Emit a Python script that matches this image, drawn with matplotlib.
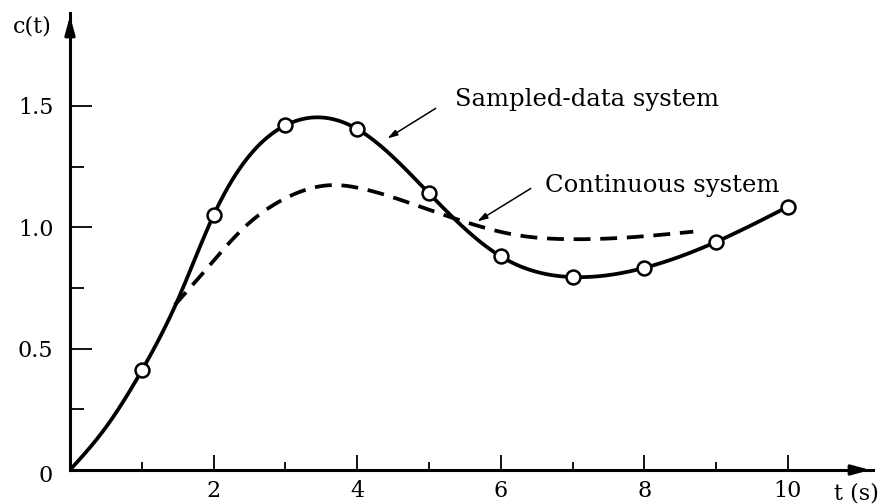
import numpy as np
import matplotlib
matplotlib.use("Agg")
import matplotlib.pyplot as plt

# ---- data ----
sample_t = [1, 2, 3, 4, 5, 6, 7, 8, 9, 10]
sample_c = [0.41, 1.05, 1.42, 1.405, 1.14, 0.88, 0.795, 0.833, 0.94, 1.085]

# solid (sampled-data) response curve, read points
solid_t = [0.0, 0.5, 1.0, 1.5, 2.0, 3.0, 4.0, 5.0, 6.0, 7.0, 8.0, 9.0, 10.0]
solid_c = [0.0, 0.176, 0.41, 0.70, 1.05, 1.42, 1.405, 1.14, 0.88, 0.795, 0.833, 0.94, 1.085]

# dashed (continuous) response curve, read points
cont_t = [1.46, 1.93, 2.39, 2.97, 3.67, 4.04, 4.81, 5.57, 6.22, 6.96, 7.71, 8.68]
cont_c = [0.680, 0.838, 0.989, 1.115, 1.174, 1.161, 1.092, 1.016, 0.968, 0.951, 0.957, 0.982]

x_major = [2, 4, 6, 8, 10]
x_minor = [1, 3, 5, 7, 9]
y_major = [0.5, 1.0, 1.5]
y_minor = [0.25, 0.75, 1.25]
y_labels = ["0.5", "1.0", "1.5"]


def natural_spline(x, y, xs):
    x = np.asarray(x, float); y = np.asarray(y, float)
    n = len(x); h = np.diff(x)
    A = np.zeros((n, n)); b = np.zeros(n)
    A[0, 0] = 1; A[-1, -1] = 1
    for i in range(1, n - 1):
        A[i, i - 1] = h[i - 1]; A[i, i] = 2 * (h[i - 1] + h[i]); A[i, i + 1] = h[i]
        b[i] = 3 * ((y[i + 1] - y[i]) / h[i] - (y[i] - y[i - 1]) / h[i - 1])
    c = np.linalg.solve(A, b)
    ys = np.empty_like(xs)
    idx = np.clip(np.searchsorted(x, xs) - 1, 0, n - 2)
    for k, (xv, i) in enumerate(zip(xs, idx)):
        bi = (y[i + 1] - y[i]) / h[i] - h[i] * (2 * c[i] + c[i + 1]) / 3
        di = (c[i + 1] - c[i]) / (3 * h[i])
        dx = xv - x[i]
        ys[k] = y[i] + bi * dx + c[i] * dx ** 2 + di * dx ** 3
    return ys


plt.rcParams['font.family'] = ['DejaVu Serif']

W, H = 886, 504
fig = plt.figure(figsize=(W / 100, H / 100), dpi=100)
x0, y0 = 70, 470      # origin pixel
xr, yt = 873, 13      # arrow tips
xscale, yscale = 71.8, 242.7
ax = fig.add_axes([x0 / W, (H - y0) / H, (xr - x0) / W, (y0 - yt) / H])
ax.set_xlim(0, (xr - x0) / xscale)
ax.set_ylim(0, (y0 - yt) / yscale)

for s in ['top', 'right']:
    ax.spines[s].set_visible(False)
for s in ['left', 'bottom']:
    ax.spines[s].set_linewidth(2.2)

ax.set_xticks(x_major)
ax.set_xticklabels([str(v) for v in x_major])
ax.set_xticks(x_minor, minor=True)
ax.set_yticks(y_major)
ax.set_yticklabels(y_labels)
ax.set_yticks(y_minor, minor=True)
ax.tick_params(axis='x', which='major', direction='in', length=11, width=1.3, pad=7, labelsize=16)
ax.tick_params(axis='x', which='minor', direction='in', length=6, width=1.3)
ax.tick_params(axis='y', which='major', direction='in', length=16, width=1.3, pad=12, labelsize=16)
ax.tick_params(axis='y', which='minor', direction='in', length=10, width=1.3)

# curves
ts = np.linspace(solid_t[0], solid_t[-1], 600)
ax.plot(ts, natural_spline(solid_t, solid_c, ts), color='black', lw=2.7, solid_capstyle='round', zorder=3)
tc = np.linspace(cont_t[0], cont_t[-1], 400)
ax.plot(tc, natural_spline(cont_t, cont_c, tc), color='black', lw=2.7, dashes=(4.5, 2.6), zorder=2)
ax.plot(sample_t, sample_c, 'o', ms=10, mfc='white', mec='black', mew=1.8, zorder=4, clip_on=False)

# axis arrows
xmax = ax.get_xlim()[1]; ymax = ax.get_ylim()[1]
ax.annotate('', xy=(xmax, 0), xytext=(xmax - 0.3, 0),
            arrowprops=dict(arrowstyle='-|>,head_length=1.1,head_width=0.3', color='black', lw=2.2),
            annotation_clip=False)
ax.annotate('', xy=(0, ymax), xytext=(0, ymax - 0.1),
            arrowprops=dict(arrowstyle='-|>,head_length=1.1,head_width=0.3', color='black', lw=2.2),
            annotation_clip=False)

# axis labels
ax.text(-0.53, ymax - 0.055, 'c(t)', fontsize=16, ha='center', va='center')
ax.text(10.95, -0.095, 't (s)', fontsize=16, ha='center', va='center', clip_on=False)
ax.text(-0.24, -0.025, '0', fontsize=16, ha='right', va='center', clip_on=False)

# annotations
ax.annotate('', xy=(4.387, 1.36), xytext=(5.125, 1.496),
            arrowprops=dict(arrowstyle='-|>,head_length=0.6,head_width=0.18', color='black', lw=1.1))
ax.text(5.36, 1.525, 'Sampled-data system', fontsize=17.5, ha='left', va='center')
ax.annotate('', xy=(5.64, 1.018), xytext=(6.45, 1.166),
            arrowprops=dict(arrowstyle='-|>,head_length=0.6,head_width=0.18', color='black', lw=1.1))
ax.text(6.615, 1.174, 'Continuous system', fontsize=17.5, ha='left', va='center')

fig.savefig('out.png', dpi=100)
